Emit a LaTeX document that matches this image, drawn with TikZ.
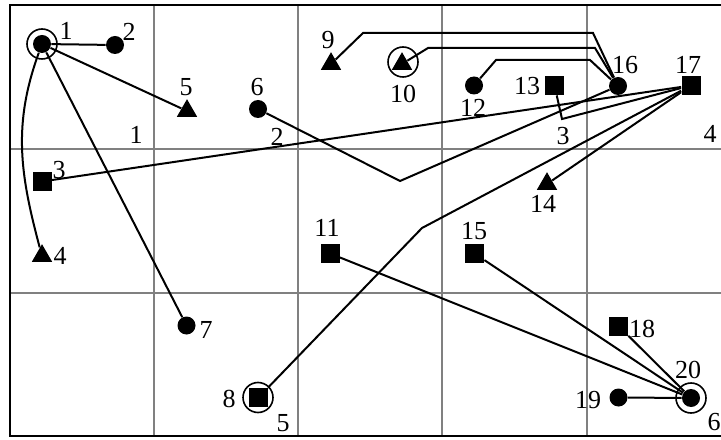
\documentclass[tikz,border=0pt]{standalone}
\usepackage{fontspec}
\setmainfont{Liberation Serif}
\usetikzlibrary{shapes.geometric}

\begin{document}
\begin{tikzpicture}[x=0.5pt,y=0.5pt,
  font=\fontsize{13}{15}\selectfont,
  link/.style={line width=1pt},
  dot/.style={circle,fill,inner sep=0pt,minimum size=9pt},
  sq/.style={rectangle,fill,inner sep=0pt,minimum size=9.5pt},
  tri/.style={regular polygon,regular polygon sides=3,fill,inner sep=0pt,minimum size=11.8pt},
  ring/.style={circle,draw,line width=0.8pt,inner sep=0pt,minimum size=15pt},
  gridline/.style={black!50,line width=1pt}]

\useasboundingbox (0,0) rectangle (721,439);

% cells
\foreach \x in {154,298,442,587} \draw[gridline] (\x,3) -- (\x,434);
\foreach \y in {290,146} \draw[gridline] (10,\y) -- (721,\y);
\draw[line width=1.3pt] (721,434) -- (10,434) -- (10,3) -- (721,3);

% cluster numbers
\node (c1) at (136,304) {1};
\node (c2) at (277,302) {2};
\node (c3) at (563,303) {3};
\node (c4) at (710,305) {4};
\node (c5) at (283,16) {5};
\node (c6) at (714,17) {6};

% points
\node[dot] (n1) at (42,395) {};
\node[ring] (r1) at (n1) {};
\node[dot] (n2) at (115,394) {};
\node[sq] (n3) at (42,257.5) {};
\node[tri] (n4) at (42,183) {};
\node[tri] (n5) at (187,328) {};
\node[dot] (n6) at (258,330) {};
\node[dot] (n7) at (186.5,113.5) {};
\node[sq] (n8) at (258.5,41.5) {};
\node[ring] (r8) at (258,41.5) {};
\node[tri] (n9) at (331,375) {};
\node[tri] (n10) at (402,375) {};
\node[ring] (r10) at (403,377) {};
\node[sq] (n11) at (330,185.5) {};
\node[dot] (n12) at (474,353.5) {};
\node[sq] (n13) at (554.5,353.5) {};
\node[tri] (n14) at (547,255) {};
\node[sq] (n15) at (474.5,185.5) {};
\node[dot] (n16) at (618,353) {};
\node[sq] (n17) at (691,353.5) {};
\node[sq] (n18) at (618.5,113) {};
\node[dot] (n19) at (618.5,41.5) {};
\node[dot] (n20) at (691,41) {};
\node[ring] (r20) at (n20) {};

% point numbers
\node (t1) at (66,408) {1};
\node (t2) at (129,407) {2};
\node (t3) at (59,269) {3};
\node (t4) at (60,183) {4};
\node (t5) at (186,352) {5};
\node (t6) at (257,352) {6};
\node (t7) at (206,109) {7};
\node (t8) at (229,40) {8};
\node (t9) at (328,399) {9};
\node (t10) at (403,345) {10};
\node (t11) at (327,211) {11};
\node (t12) at (473,331) {12};
\node (t13) at (527,353) {13};
\node (t14) at (543,235) {14};
\node (t15) at (474,208) {15};
\node (t16) at (625,374) {16};
\node (t17) at (688,374) {17};
\node (t18) at (642,110) {18};
\node (t19) at (588,39) {19};
\node (t20) at (688,69) {20};

% bends
\coordinate (v6) at (400,258);
\coordinate (b8) at (422,211);
\coordinate (b13) at (562,320);
\coordinate (h9a) at (593,406);
\coordinate (h9b) at (363,406);
\coordinate (h10a) at (595,391);
\coordinate (h10b) at (428,391);
\coordinate (h12a) at (590,379);
\coordinate (h12b) at (496,379);

% links
\draw[link] (n1) -- (n2);
\draw[link] (n1) -- (n5);
\draw[link] (n1) -- (n7);
\draw[link] (n1) to[out=250,in=105] (n4);
\draw[link] (n3) -- (n17);
\draw[link] (n6) -- (v6) -- (n16);
\draw[link] (n13) -- (b13) -- (n17);
\draw[link] (n17) -- (n14);
\draw[link] (n17) -- (b8) -- (n8);
\draw[link] (n16) -- (h9a) -- (h9b) -- (n9);
\draw[link] (n16) -- (h10a) -- (h10b) -- (n10);
\draw[link] (n16) -- (h12a) -- (h12b) -- (n12);
\draw[link] (n11) -- (n20);
\draw[link] (n15) -- (n20);
\draw[link] (n18) -- (n20);
\draw[link] (n19) -- (n20);
\end{tikzpicture}
\end{document}
